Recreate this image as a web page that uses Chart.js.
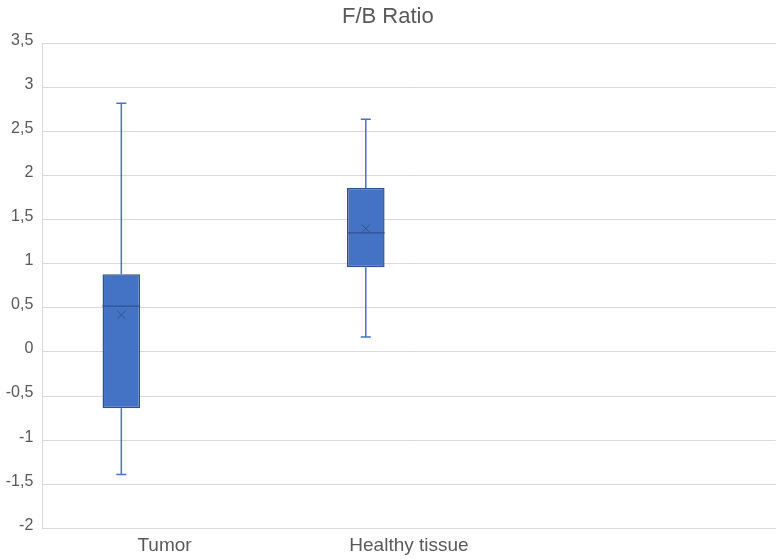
<!DOCTYPE html>
<html>
<head>
<meta charset="utf-8">
<script src="https://cdn.jsdelivr.net/npm/chart.js@4.4.1/dist/chart.umd.min.js"></script>
<style>
    html, body { margin: 0; padding: 0; background: #fff; }
</style>
</head>
<body>
<canvas id="boxChart" width="780" height="560"></canvas>
<script>
// Box plot values
const categories = ['Tumor', 'Healthy tissue', ''];
const minValues = [-1.39, 0.17, null];
const q1Values = [-0.64, 0.96, null];
const medianValues = [0.52, 1.35, null];
const q3Values = [0.88, 1.86, null];
const maxValues = [2.82, 2.64, null];
const meanValues = [0.42, 1.40, null];

const yMin = -2;
const yMax = 3.5;
const yStep = 0.5;

const boxFill = '#4472C4';
const boxEdge = '#2F528F';
const textColor = '#595959';
const gridColor = '#d9d9d9';

// Whiskers, median line and mean marker, drawn on top of the floating bars
const boxPlotPlugin = {
    id: 'boxPlot',
    afterDatasetsDraw(chart) {
        const meta = chart.getDatasetMeta(0);
        const yScale = chart.scales.y;
        const ctx = chart.ctx;

        ctx.save();
        meta.data.forEach((bar, i) => {
            if (q1Values[i] == null) return;
            const x = bar.x;
            const half = bar.width / 2;
            const capHalf = 5;

            const yMinPx = yScale.getPixelForValue(minValues[i]);
            const yQ1 = yScale.getPixelForValue(q1Values[i]);
            const yQ3 = yScale.getPixelForValue(q3Values[i]);
            const yMaxPx = yScale.getPixelForValue(maxValues[i]);
            const yMed = yScale.getPixelForValue(medianValues[i]);
            const yMean = yScale.getPixelForValue(meanValues[i]);

            // whiskers
            ctx.strokeStyle = boxFill;
            ctx.lineWidth = 1.5;
            ctx.beginPath();
            ctx.moveTo(x, yQ3);
            ctx.lineTo(x, yMaxPx);
            ctx.moveTo(x - capHalf, yMaxPx);
            ctx.lineTo(x + capHalf, yMaxPx);
            ctx.moveTo(x, yQ1);
            ctx.lineTo(x, yMinPx);
            ctx.moveTo(x - capHalf, yMinPx);
            ctx.lineTo(x + capHalf, yMinPx);
            ctx.stroke();

            // median
            ctx.strokeStyle = boxEdge;
            ctx.lineWidth = 1.2;
            ctx.beginPath();
            ctx.moveTo(x - half, yMed);
            ctx.lineTo(x + half, yMed);
            ctx.stroke();

            // mean
            const m = 4;
            ctx.lineWidth = 1;
            ctx.beginPath();
            ctx.moveTo(x - m, yMean - m);
            ctx.lineTo(x + m, yMean + m);
            ctx.moveTo(x + m, yMean - m);
            ctx.lineTo(x - m, yMean + m);
            ctx.stroke();
        });
        ctx.restore();
    }
};

const boxRanges = q1Values.map((q1, i) => (q1 == null ? null : [q1, q3Values[i]]));

new Chart(document.getElementById('boxChart'), {
    type: 'bar',
    data: {
        labels: categories,
        datasets: [
            {
                label: 'F/B Ratio',
                data: boxRanges,
                backgroundColor: boxFill,
                borderColor: boxEdge,
                borderWidth: 1.5,
                borderSkipped: false,
                barPercentage: 0.435,
                categoryPercentage: 0.707
            },
            {
                // empty second slot, keeps the boxes left of the category centre
                label: '',
                data: categories.map(() => null),
                barPercentage: 0.435,
                categoryPercentage: 0.707
            }
        ]
    },
    options: {
        responsive: false,
        animation: false,
        layout: {
            padding: { left: 0, right: 4.3, top: 0, bottom: 0 }
        },
        plugins: {
            legend: { display: false },
            tooltip: { enabled: false },
            title: {
                display: true,
                text: 'F/B Ratio',
                color: textColor,
                font: { family: "'Liberation Sans', Arial, sans-serif", size: 22, weight: 'normal', lineHeight: 1.2 },
                padding: { top: 4, bottom: 12.9 }
            }
        },
        scales: {
            x: {
                grid: { display: false, drawTicks: false },
                border: { display: true, color: gridColor },
                ticks: {
                    color: textColor,
                    padding: 6,
                    font: { family: "'Liberation Sans', Arial, sans-serif", size: 19 }
                },
                afterFit(scale) { scale.height = 31.7; }
            },
            y: {
                min: yMin,
                max: yMax,
                grid: { color: gridColor, drawTicks: false },
                border: { display: true, color: gridColor },
                ticks: {
                    stepSize: yStep,
                    color: textColor,
                    padding: 9,
                    labelOffset: -3,
                    font: { family: "'Liberation Sans', Arial, sans-serif", size: 16 },
                    callback: value => String(value).replace('.', ',')
                },
                afterFit(scale) { scale.width = 42.3; }
            }
        }
    },
    plugins: [boxPlotPlugin]
});
</script>
</body>
</html>
